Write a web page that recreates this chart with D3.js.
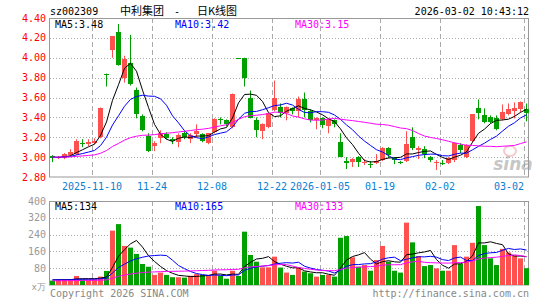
<!DOCTYPE html>
<html>
<head>
<meta charset="utf-8">
<script src="https://cdn.jsdelivr.net/npm/d3@7/dist/d3.min.js"></script>
<style>
  body { margin: 0; background: #fff; }
  svg { display: block; }
  text { font-family: "DejaVu Sans Mono", monospace; font-size: 10px; }
</style>
</head>
<body>
<div id="kline"></div>
<script>
// trading days shown on the chart
var dates = [
  "2025-10-30","2025-10-31","2025-11-03","2025-11-04","2025-11-05","2025-11-06","2025-11-07",
  "2025-11-10","2025-11-11","2025-11-12","2025-11-13","2025-11-14",
  "2025-11-17","2025-11-18","2025-11-19","2025-11-20","2025-11-21",
  "2025-11-24","2025-11-25","2025-11-26","2025-11-27","2025-11-28",
  "2025-12-01","2025-12-02","2025-12-03","2025-12-04","2025-12-05",
  "2025-12-08","2025-12-09","2025-12-10","2025-12-11","2025-12-12",
  "2025-12-15","2025-12-16","2025-12-17","2025-12-18","2025-12-19",
  "2025-12-22","2025-12-23","2025-12-24","2025-12-25","2025-12-26",
  "2025-12-29","2025-12-30","2025-12-31",
  "2026-01-05","2026-01-06","2026-01-07","2026-01-08","2026-01-09",
  "2026-01-12","2026-01-13","2026-01-14","2026-01-15","2026-01-16",
  "2026-01-19","2026-01-20","2026-01-21","2026-01-22","2026-01-23",
  "2026-01-26","2026-01-27","2026-01-28","2026-01-29","2026-01-30",
  "2026-02-02","2026-02-03","2026-02-04","2026-02-05","2026-02-06",
  "2026-02-09","2026-02-10","2026-02-11","2026-02-12","2026-02-13",
  "2026-02-24","2026-02-25","2026-02-26","2026-02-27",
  "2026-03-02"
];

var open = [3.01,2.99,2.99,3.02,3.03,3.14,3.13,3.14,3.20,3.84, 4.08,4.26,3.80,3.95,3.68,3.41,3.21,3.11,3.19,3.23,
  3.18,3.15,3.24,3.18,3.23,3.23,3.14,3.25,3.38,3.37, 3.31,4.00,4.00,3.60,3.37,3.26,3.30,3.48,3.50,3.44,
  3.49,3.46,3.58,3.46,3.37,3.39,3.31,3.37,3.15,2.96, 2.95,3.00,2.95,2.93,2.94,2.97,3.09,2.99,2.95,2.96,
  3.20,3.07,3.08,3.00,2.95,2.94,2.94,2.97,3.12,3.00, 3.16,3.49,3.42,3.40,3.39,3.38,3.43,3.46,3.48,3.48];
var high = [3.02,3.01,3.04,3.08,3.18,3.18,3.18,3.19,3.50,3.84, 4.22,4.34,4.02,4.23,3.70,3.43,3.24,3.16,3.27,3.25,
  3.20,3.24,3.26,3.24,3.33,3.24,3.24,3.39,3.40,3.38, 3.64,4.00,4.00,3.67,3.40,3.34,3.44,3.77,3.54,3.51,
  3.50,3.61,3.65,3.48,3.40,3.40,3.39,3.38,3.24,3.00, 2.99,3.01,2.98,2.96,3.03,3.10,3.10,3.00,2.96,3.26,
  3.30,3.11,3.11,3.01,2.97,2.97,3.00,3.15,3.14,3.13, 3.43,3.58,3.49,3.42,3.42,3.53,3.54,3.55,3.56,3.54];
var low = [2.95,2.98,2.98,3.01,3.02,3.10,3.11,3.13,3.19,3.71, 4.00,3.92,3.75,3.72,3.39,3.26,3.05,3.06,3.14,3.18,
  3.13,3.10,3.18,3.14,3.20,3.15,3.13,3.24,3.33,3.31, 3.29,4.00,3.71,3.39,3.20,3.18,3.29,3.46,3.40,3.37,
  3.43,3.40,3.40,3.35,3.28,3.29,3.24,3.30,3.00,2.88, 2.90,2.90,2.92,2.89,2.93,2.96,2.99,2.93,2.93,2.95,
  3.07,2.98,2.99,2.95,2.87,2.92,2.93,2.95,3.04,2.99, 3.15,3.38,3.34,3.34,3.27,3.37,3.42,3.39,3.45,3.36];
var close = [2.99,3.00,3.03,3.05,3.16,3.13,3.15,3.16,3.49,3.84, 4.22,3.93,3.99,3.74,3.44,3.27,3.06,3.14,3.24,3.19,
  3.16,3.22,3.20,3.22,3.26,3.16,3.24,3.38,3.38,3.33, 3.64,4.00,3.80,3.40,3.27,3.33,3.44,3.60,3.44,3.50,
  3.46,3.58,3.47,3.37,3.39,3.32,3.38,3.33,3.00,2.94, 2.98,2.95,2.955,2.93,2.96,3.09,3.02,2.97,2.95,3.13,
  3.09,3.09,3.03,2.97,2.955,2.94,2.99,3.14,3.07,3.12, 3.43,3.44,3.35,3.35,3.28,3.45,3.48,3.49,3.55,3.44];
// volume, 万手
var volume = [21,27,27,27,43,27,27,27,40,67, 259,290,186,178,148,100,87,48,59,48,
  37,37,35,44,52,48,48,68,45,30, 68,43,254,143,111,84,84,135,83,59,
  48,84,64,56,40,48,48,40,225,233, 132,87,95,68,119,186,111,68,59,297,
  203,138,90,95,79,68,68,190,100,135, 201,376,190,127,95,172,155,140,127,80];

// MA level at the first candle, used for days before the window
var maPeriods = [5, 10, 30];
var maColors = ["#000000", "#0000ff", "#ff00ff"];
var priceMaStart = [3.00, 3.00, 3.00];
var volMaStart = [25, 25, 20];
var priceMaText = ["3.48", "3.42", "3.15"];
var volMaText = ["134", "165", "133"];

var tickDates = ["2025-11-10","2025-11-24","2025-12-08","2025-12-22","2026-01-05","2026-01-19","2026-02-02","2026-03-02"];
var tickLabels = ["2025-11-10","11-24","12-08","12-22","2026-01-05","01-19","02-02","03-02"];
var priceTicks = [2.8, 3.0, 3.2, 3.4, 3.6, 3.8, 4.0, 4.2, 4.4];
var volTicks = [80, 160, 240, 320, 400];

var W = 545, H = 300;
var left = 50, right = 529;
var pTop = 18, pBot = 177, vTop = 201, vBot = 285;
var upColor = "#ff5050", downColor = "#00a000", gridColor = "#aaaaaa", frameColor = "#999999";

var x = d3.scaleBand().domain(dates).range([left, left + 6 * dates.length]).padding(0);
var y = d3.scaleLinear().domain([2.8, 4.4]).range([pBot, pTop]);
var yv = d3.scaleLinear().domain([0, 400]).range([vBot, vTop]);

var svg = d3.select("#kline").append("svg")
  .attr("width", W)
  .attr("height", H);

function movingAvg(vals, n, seed) {
  return vals.map(function(v, i) {
    var s = 0;
    for (var k = i - n + 1; k <= i; k++) s += k >= 0 ? vals[k] : seed;
    return s / n;
  });
}

var isUp = close.map(function(c, i) { return c > open[i]; });

// --- header text
svg.append("text").attr("x", 50).attr("y", 15).text("sz002309");
svg.append("text").attr("x", 120).attr("y", 15)
  .style("font-family", "'Noto Sans CJK SC', sans-serif").style("font-size", "11px")
  .text("中利集团");
svg.append("text").attr("x", 177).attr("y", 15).attr("text-anchor", "middle").text("-");
svg.append("text").attr("x", 197).attr("y", 15)
  .style("font-family", "'Noto Sans CJK SC', sans-serif").style("font-size", "11px")
  .text("日K线图");
svg.append("text").attr("x", 529).attr("y", 15).attr("text-anchor", "end").text("2026-03-02 10:43:12");

// --- grids
function drawGrid(top, bot, scale, ticks) {
  svg.append("g").selectAll("line")
    .data(ticks.filter(function(t) { return scale(t) > top + 1 && scale(t) < bot - 1; }))
    .enter().append("line")
    .attr("x1", left).attr("x2", right)
    .attr("y1", function(d) { return Math.round(scale(d)) + 0.5; })
    .attr("y2", function(d) { return Math.round(scale(d)) + 0.5; })
    .attr("stroke", gridColor).attr("stroke-dasharray", "1,2");
  svg.append("g").selectAll("line")
    .data(tickDates)
    .enter().append("line")
    .attr("x1", function(d) { return x(d) + 0.5; })
    .attr("x2", function(d) { return x(d) + 0.5; })
    .attr("y1", top).attr("y2", bot)
    .attr("stroke", gridColor).attr("stroke-dasharray", "5,3");
  svg.append("rect")
    .attr("x", left - 0.5).attr("y", top + 0.5)
    .attr("width", right - left).attr("height", bot - top - 0.5)
    .attr("fill", "none").attr("stroke", frameColor);
}
drawGrid(pTop, pBot, y, priceTicks);
drawGrid(vTop, vBot, yv, volTicks);

// --- axis labels
svg.append("g").selectAll("text")
  .data(priceTicks).enter().append("text")
  .attr("x", 46).attr("y", function(d) { return y(d) + 3.5; })
  .attr("text-anchor", "end").attr("fill", "#ff0000")
  .text(function(d) { return d3.format(".2f")(d); });

svg.append("g").selectAll("text")
  .data(volTicks).enter().append("text")
  .attr("x", 46).attr("y", function(d) { return yv(d) + 3.5; })
  .attr("text-anchor", "end").attr("fill", "#999999")
  .text(function(d) { return d; });
svg.append("text").attr("x", 46).attr("y", 290).attr("text-anchor", "end")
  .attr("fill", "#999999").style("font-size", "9px").text("x万");

svg.append("g").selectAll("text")
  .data(tickDates).enter().append("text")
  .attr("x", function(d, i) { return i == tickDates.length - 1 ? x(d) : x(d); })
  .attr("y", 189.5)
  .attr("text-anchor", function(d, i) { return i == tickDates.length - 1 ? "end" : "middle"; })
  .attr("fill", "#0a80d0")
  .text(function(d, i) { return tickLabels[i]; });

// --- watermark
var wm = svg.append("g").attr("opacity", 0.55);
wm.append("ellipse").attr("cx", 510).attr("cy", 151).attr("rx", 6).attr("ry", 5)
  .attr("fill", "none").attr("stroke", "#f0a0a0").attr("stroke-width", 2);
wm.append("text").attr("x", 513).attr("y", 170).attr("text-anchor", "middle")
  .style("font-family", "'DejaVu Sans', sans-serif").style("font-size", "17px")
  .style("font-style", "italic").style("font-weight", "bold")
  .attr("fill", "#999999").text("sina");

// --- candles
var candles = svg.append("g").selectAll("g")
  .data(dates).enter().append("g");

candles.append("line")
  .attr("x1", function(d) { return x(d) + 2.5; })
  .attr("x2", function(d) { return x(d) + 2.5; })
  .attr("y1", function(d, i) { return y(high[i]); })
  .attr("y2", function(d, i) { return y(low[i]); })
  .attr("stroke", function(d, i) { return isUp[i] ? upColor : downColor; });

candles.append("rect")
  .attr("x", function(d) { return x(d); })
  .attr("width", 5)
  .attr("y", function(d, i) { return Math.round(y(Math.max(open[i], close[i]))); })
  .attr("height", function(d, i) { return Math.max(1, Math.round(Math.abs(y(open[i]) - y(close[i])))); })
  .attr("fill", function(d, i) { return isUp[i] ? upColor : downColor; });

// --- volume bars
svg.append("g").selectAll("rect")
  .data(dates).enter().append("rect")
  .attr("x", function(d) { return x(d); })
  .attr("width", 5)
  .attr("y", function(d, i) { return yv(volume[i]); })
  .attr("height", function(d, i) { return vBot - yv(volume[i]); })
  .attr("fill", function(d, i) { return isUp[i] ? upColor : downColor; });

// --- moving averages
function drawMAs(vals, starts, scale) {
  maPeriods.forEach(function(n, k) {
    var ma = movingAvg(vals, n, starts[k]);
    var line = d3.line()
      .x(function(d, i) { return x(dates[i]) + 2.5; })
      .y(function(d) { return scale(d); });
    svg.append("path")
      .attr("d", line(ma))
      .attr("fill", "none")
      .attr("stroke", maColors[k])
      .attr("stroke-width", 1);
  });
}
drawMAs(close, priceMaStart, y);
drawMAs(volume, volMaStart, yv);

// --- MA legends
var legendX = [55, 175, 295];
maPeriods.forEach(function(n, k) {
  svg.append("text").attr("x", legendX[k]).attr("y", 27.5)
    .attr("fill", maColors[k]).text("MA" + n + ":" + priceMaText[k]);
  svg.append("text").attr("x", legendX[k]).attr("y", 209.5)
    .attr("fill", maColors[k]).text("MA" + n + ":" + volMaText[k]);
});

// --- footer
svg.append("text").attr("x", 50).attr("y", 296.5).attr("fill", "#888888").text("Copyright 2026 SINA.COM");
svg.append("text").attr("x", 529).attr("y", 296.5).attr("text-anchor", "end").attr("fill", "#888888").text("http://finance.sina.com.cn");
</script>
</body>
</html>
